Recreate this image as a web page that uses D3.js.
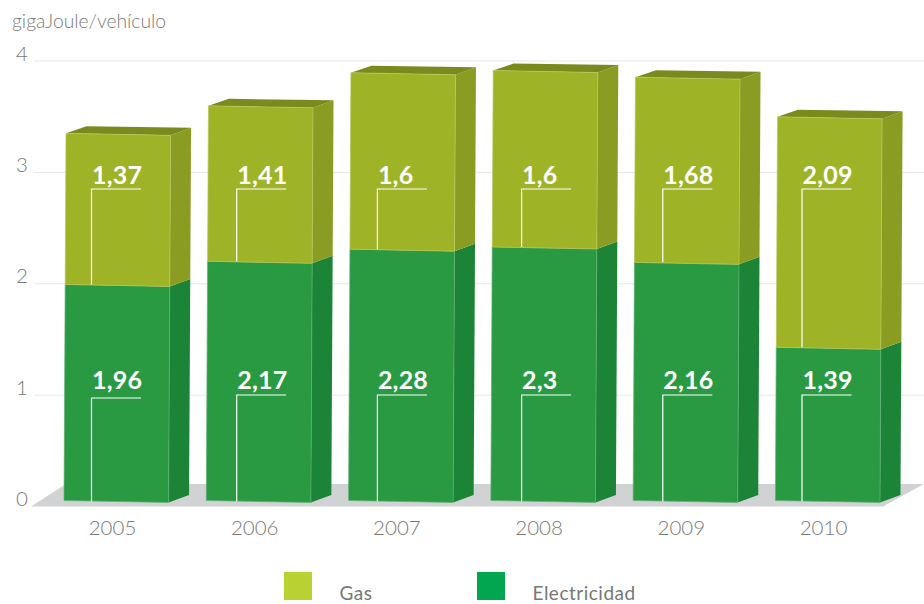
<!DOCTYPE html>
<html>
<head>
<meta charset="utf-8">
<script src="https://cdnjs.cloudflare.com/ajax/libs/d3/7.8.5/d3.min.js"></script>
<style>
  html, body { margin: 0; padding: 0; background: #fff; }
  svg { display: block; font-family: Lato, "Open Sans", sans-serif; }
  .axis path, .axis line { display: none; }
  .axis text { fill: #7a7a7a; font-size: 20.5px; font-weight: 300; font-family: Lato, sans-serif; }
</style>
</head>
<body>
<svg width="924" height="604"></svg>
<script>
// data
var years = ["2005", "2006", "2007", "2008", "2009", "2010"];
var electricidad = [1.96, 2.17, 2.28, 2.3, 2.16, 1.39];
var gas = [1.37, 1.41, 1.6, 1.6, 1.68, 2.09];
var gasLabels = ["1,37", "1,41", "1,6", "1,6", "1,68", "2,09"];
var elecLabels = ["1,96", "2,17", "2,28", "2,3", "2,16", "1,39"];
var yTicks = [0, 1, 2, 3, 4];

// leader lines are hand placed in the original, so they are nudged per bar
var leaderNudge = [0, 3, 1.5, 3.5, 2.5, -0.5];
var elecLeaderY = [398, 395, 395, 395, 395, 395];
var gasLeaderY = 189;
var elecTextY = 388.5;
var gasTextY = 183.5;

var svg = d3.select("svg");

// bar fronts sit slightly above the floor line, so bars and grid get their own scales
var x = d3.scaleBand().domain(years).range([64, 880]).paddingInner(0.265).paddingOuter(0);
var y = d3.scaleLinear().domain([0, 4]).range([500.5, 59.5]);
var yGrid = d3.scaleLinear().domain([0, 4]).range([506, 60.5]);
var xLabel = d3.scalePoint().domain(years).range([112, 823]);

var lean = 0.6;   // px the bar drifts right per unit of height
var sag = 2;      // right edge of the front sits lower than the left
var depthX = 20.5, depthY = -7.5;

// grid lines
svg.append("g").selectAll("line")
    .data(yTicks.slice(1))
    .enter().append("line")
      .attr("x1", 34)
      .attr("x2", 924)
      .attr("y1", function(d) { return yGrid(d) + 0.5; })
      .attr("y2", function(d) { return yGrid(d) + 0.5; })
      .attr("stroke", "#e7e7e7")
      .attr("stroke-width", 1);

// floor
svg.append("polygon")
    .attr("points", [[31, 506.5], [66, 484], [924, 484], [883, 506.5]].join(" "))
    .attr("fill", "#d1d2d4");

// y axis, labels only
svg.append("g")
    .attr("class", "axis")
    .attr("transform", "translate(28,-7)")
    .call(d3.axisLeft(yGrid).tickValues(yTicks).tickSize(0).tickPadding(0).tickFormat(d3.format("d")));

// x axis, labels only
svg.append("g")
    .attr("class", "axis")
    .attr("transform", "translate(0,520)")
    .call(d3.axisBottom(xLabel).tickSize(0).tickPadding(0));

svg.append("text")
    .attr("x", 12)
    .attr("y", 28)
    .attr("fill", "#7a7a7a")
    .attr("font-size", 19.3)
    .attr("font-weight", 300)
    .text("gigaJoule/vehículo");

// corner helpers for one segment of a bar
function left(i, v) { return x(years[i]) + lean * v; }
function right(i, v) { return left(i, v) + x.bandwidth(); }
function pts(a) { return a.map(function(p) { return p.join(","); }).join(" "); }

function frontFace(i, v0, v1) {
  return pts([[left(i, v0), y(v0)], [right(i, v0), y(v0) + sag], [right(i, v1), y(v1) + sag], [left(i, v1), y(v1)]]);
}
function sideFace(i, v0, v1) {
  return pts([[right(i, v0), y(v0) + sag], [right(i, v0) + depthX, y(v0) + sag + depthY],
    [right(i, v1) + depthX, y(v1) + sag + depthY], [right(i, v1), y(v1) + sag]]);
}
function topFace(i, v) {
  return pts([[left(i, v), y(v)], [left(i, v) + depthX, y(v) + depthY + 0.5],
    [right(i, v) + depthX, y(v) + sag + depthY], [right(i, v), y(v) + sag]]);
}

var bars = svg.append("g").selectAll("g")
    .data(years)
    .enter().append("g");

bars.each(function(year, i) {
  var g = d3.select(this);
  var e = electricidad[i], t = e + gas[i];

  g.append("polygon").attr("points", sideFace(i, 0, e)).attr("fill", "#1b8436");
  g.append("polygon").attr("points", frontFace(i, 0, e))
      .attr("fill", "#299a42").attr("stroke", "#5fb074").attr("stroke-width", 0.7);

  g.append("polygon").attr("points", sideFace(i, e, t)).attr("fill", "#8a9c22");
  g.append("polygon").attr("points", topFace(i, t)).attr("fill", "#7a8a1c");
  g.append("polygon").attr("points", frontFace(i, e, t))
      .attr("fill", "#9fb327").attr("stroke", "#b9c75e").attr("stroke-width", 0.7);

  // value labels with their leader lines
  var lx = xLabel(year) - 20.5 + leaderNudge[i];
  var leaders = [
    {top: elecLeaderY[i], bottom: y(0) + 1, text: elecLabels[i], textY: elecTextY},
    {top: gasLeaderY, bottom: y(e), text: gasLabels[i], textY: gasTextY}
  ];
  leaders.forEach(function(d) {
    g.append("path")
        .attr("d", "M" + lx + "," + d.bottom + "V" + d.top + "H" + (lx + 49.5))
        .attr("fill", "none")
        .attr("stroke", "#fff")
        .attr("stroke-width", 1.2);
    g.append("text")
        .attr("x", lx + 0.5)
        .attr("y", d.textY)
        .attr("fill", "#fff")
        .attr("font-size", 25)
        .attr("font-weight", 700)
        .attr("letter-spacing", 0.2)
        .text(d.text);
  });
});

// legend
var legendItems = ["Gas", "Electricidad"];
var legendColors = ["#b9d232", "#00a650"];
var legendX = [284, 477];

var legend = svg.append("g").selectAll("g")
    .data(legendItems)
    .enter().append("g")
      .attr("transform", function(d, i) { return "translate(" + legendX[i] + ",572)"; });

legend.append("rect")
    .attr("width", 28)
    .attr("height", 28)
    .attr("fill", function(d, i) { return legendColors[i]; });

legend.append("text")
    .attr("x", 55.5)
    .attr("y", 28)
    .attr("fill", "#777777")
    .attr("font-size", 19)
    .attr("letter-spacing", 0.5)
    .text(function(d) { return d; });
</script>
</body>
</html>
